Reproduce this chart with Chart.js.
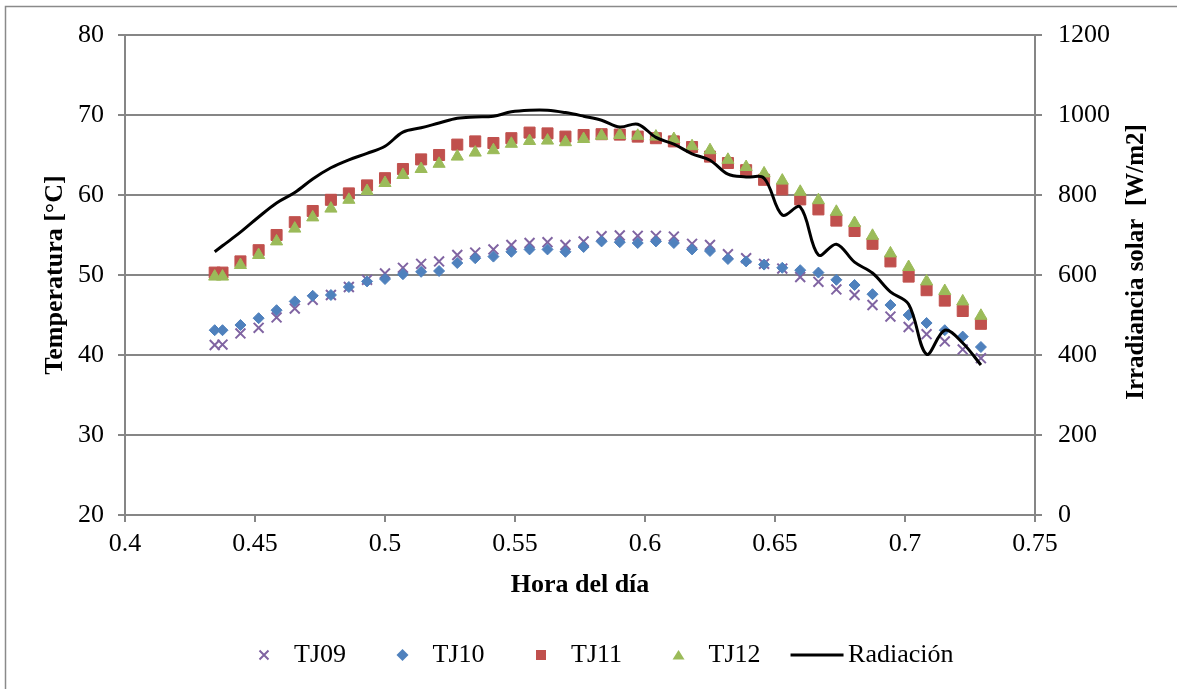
<!DOCTYPE html>
<html>
<head>
<meta charset="utf-8">
<script src="https://cdn.jsdelivr.net/npm/chart.js@4.4.0/dist/chart.umd.min.js"></script>
<style>
  body { margin: 0; background: #fff; }
  #wrap { width: 1177px; height: 689px; }
</style>
</head>
<body>
<div id="wrap"><canvas id="myChart" width="1177" height="689"></canvas></div>
<script>
// Hora del día (fracción del día), un punto cada 10 minutos
const horas = [0.4345, 0.4375, 0.4444, 0.4514, 0.4583, 0.4653, 0.4722, 0.4792, 0.4861, 0.4931,
  0.5, 0.5069, 0.5139, 0.5208, 0.5278, 0.5347, 0.5417, 0.5486, 0.5556, 0.5625,
  0.5694, 0.5764, 0.5833, 0.5903, 0.5972, 0.6042, 0.6111, 0.6181, 0.625, 0.6319,
  0.6389, 0.6458, 0.6528, 0.6597, 0.6667, 0.6736, 0.6806, 0.6875, 0.6944, 0.7014,
  0.7083, 0.7153, 0.7222, 0.7292];

// Temperaturas [°C]
const tj09 = [41.25, 41.3, 42.7, 43.4, 44.7, 45.8, 46.9, 47.5, 48.5, 49.4,
  50.2, 50.9, 51.4, 51.7, 52.5, 52.8, 53.2, 53.75, 54.0, 54.1,
  53.75, 54.2, 54.85, 54.95, 54.9, 54.9, 54.8, 53.9, 53.75, 52.6,
  52.1, 51.4, 50.8, 49.75, 49.15, 48.2, 47.5, 46.25, 44.8, 43.5,
  42.6, 41.7, 40.7, 39.6];
const tj10 = [43.1, 43.1, 43.75, 44.6, 45.6, 46.7, 47.4, 47.5, 48.5, 49.2,
  49.5, 50.1, 50.4, 50.5, 51.5, 52.1, 52.3, 52.9, 53.2, 53.2,
  52.9, 53.5, 54.2, 54.1, 54.0, 54.2, 54.0, 53.2, 53.0, 52.0,
  51.7, 51.3, 50.9, 50.6, 50.3, 49.4, 48.75, 47.6, 46.25, 45.0,
  44.0, 43.1, 42.3, 41.0];
const tj11 = [50.3, 50.3, 51.7, 53.1, 55.0, 56.6, 58.0, 59.4, 60.2, 61.2,
  62.1, 63.25, 64.45, 65.0, 66.3, 66.7, 66.5, 67.1, 67.8, 67.7,
  67.3, 67.5, 67.6, 67.55, 67.3, 67.1, 66.7, 66.0, 64.8, 64.0,
  63.1, 61.9, 60.7, 59.45, 58.2, 56.8, 55.5, 53.9, 51.7, 49.8,
  48.1, 46.8, 45.5, 43.9];
const tj12 = [49.8, 49.8, 51.25, 52.5, 54.2, 55.8, 57.2, 58.3, 59.4, 60.5,
  61.5, 62.5, 63.25, 63.9, 64.8, 65.3, 65.6, 66.4, 66.75, 66.8,
  66.6, 67.0, 67.4, 67.5, 67.4, 67.3, 67.0, 66.1, 65.6, 64.4,
  63.5, 62.7, 61.8, 60.4, 59.35, 57.9, 56.5, 54.9, 52.7, 51.0,
  49.2, 48.0, 46.7, 44.9];

// Irradiancia solar [W/m2]
const radiacion = [658, 673, 707, 745, 780, 806, 840, 868, 888, 904,
  922, 957, 968, 980, 992, 995, 997, 1008, 1012, 1012,
  1006, 997, 987, 970, 977, 944, 927, 903, 887, 852,
  845, 842, 750, 770, 650, 677, 632, 605, 558, 527,
  402, 462, 430, 375];

// Marcas de los ejes
const xTicks = [0.4, 0.45, 0.5, 0.55, 0.6, 0.65, 0.7, 0.75];
const tempTicks = [20, 30, 40, 50, 60, 70, 80];
const irrTicks = [0, 200, 400, 600, 800, 1000, 1200];

const gris = '#868686';
const fuente = '"Liberation Serif", "Times New Roman", serif';

function puntos(serie) {
  return horas.map((h, i) => ({ x: h, y: serie[i] }));
}

// marcador para la leyenda
function dibujarMarcador(ctx, estilo, color) {
  ctx.fillStyle = color;
  ctx.strokeStyle = color;
  ctx.beginPath();
  if (estilo === 'crossRot') {
    ctx.lineWidth = 2;
    ctx.moveTo(-4.5, -4.5); ctx.lineTo(4.5, 4.5);
    ctx.moveTo(-4.5, 4.5); ctx.lineTo(4.5, -4.5);
    ctx.stroke();
  } else if (estilo === 'rectRot') {
    ctx.moveTo(-6, 0); ctx.lineTo(0, -6); ctx.lineTo(6, 0); ctx.lineTo(0, 6);
    ctx.closePath(); ctx.fill();
  } else if (estilo === 'rect') {
    ctx.rect(-5, -5, 10, 10); ctx.fill();
  } else if (estilo === 'triangle') {
    ctx.moveTo(0, -5); ctx.lineTo(6, 4.5); ctx.lineTo(-6, 4.5);
    ctx.closePath(); ctx.fill();
  }
}

const marcoYLeyenda = {
  id: 'marcoYLeyenda',
  beforeDraw(chart) {
    const ctx = chart.ctx;
    ctx.save();
    ctx.fillStyle = '#fff';
    ctx.fillRect(0, 0, chart.width, chart.height);
    ctx.strokeStyle = '#8a8a8a';
    ctx.lineWidth = 1.5;
    ctx.beginPath();
    ctx.moveTo(5.5, chart.height);
    ctx.lineTo(5.5, 6.5);
    ctx.lineTo(chart.width, 6.5);
    ctx.stroke();
    ctx.restore();
  },
  afterDraw(chart) {
    const ctx = chart.ctx;
    // título del eje derecho, leído de abajo hacia arriba
    ctx.save();
    ctx.translate(1137, 262);
    ctx.rotate(-Math.PI / 2);
    ctx.font = 'bold 25px ' + fuente;
    ctx.fillStyle = '#000';
    ctx.textAlign = 'center';
    ctx.textBaseline = 'middle';
    ctx.fillText('Irradiancia solar  [W/m2]', 0, 0);
    ctx.restore();

    // leyenda abajo
    const y = 655;
    let x = 264;
    ctx.save();
    ctx.font = '26px ' + fuente;
    ctx.textBaseline = 'middle';
    chart.data.datasets.forEach(ds => {
      const w = ctx.measureText(ds.label).width;
      let tx;
      if (ds.showLine) {
        ctx.strokeStyle = ds.borderColor;
        ctx.lineWidth = 3;
        ctx.beginPath();
        ctx.moveTo(x - 26.5, y);
        ctx.lineTo(x + 26.5, y);
        ctx.stroke();
        tx = x + 31;
      } else {
        ctx.save();
        ctx.translate(x, y);
        dibujarMarcador(ctx, ds.pointStyle, ds.backgroundColor);
        ctx.restore();
        tx = x + 30;
      }
      ctx.fillStyle = '#000';
      ctx.fillText(ds.label, tx, y);
      x = tx + w + 56.5;
    });
    ctx.restore();
  }
};

Chart.defaults.font.family = fuente;
Chart.defaults.font.size = 26;
Chart.defaults.color = '#000';

const ctx = document.getElementById('myChart').getContext('2d');
const myChart = new Chart(ctx, {
  type: 'scatter',
  data: {
    datasets: [
      {
        label: 'TJ09', data: puntos(tj09), yAxisID: 'y', order: 4,
        pointStyle: 'crossRot', pointRadius: 7, borderWidth: 2,
        backgroundColor: '#8064A2', borderColor: '#8064A2'
      },
      {
        label: 'TJ10', data: puntos(tj10), yAxisID: 'y', order: 3,
        pointStyle: 'rectRot', pointRadius: 5.5, borderWidth: 1,
        backgroundColor: '#4F81BD', borderColor: '#4F81BD'
      },
      {
        label: 'TJ11', data: puntos(tj11), yAxisID: 'y', order: 2,
        pointStyle: 'rect', pointRadius: 7.8, borderWidth: 1,
        backgroundColor: '#C0504D', borderColor: '#C0504D'
      },
      {
        label: 'TJ12', data: puntos(tj12), yAxisID: 'y', order: 1,
        pointStyle: 'triangle', pointRadius: 7, borderWidth: 1,
        backgroundColor: '#9BBB59', borderColor: '#9BBB59'
      },
      {
        label: 'Radiación', data: puntos(radiacion), yAxisID: 'y1', order: 0,
        showLine: true, pointRadius: 0, borderWidth: 3, tension: 0.35,
        borderColor: '#000', backgroundColor: '#000'
      }
    ]
  },
  options: {
    responsive: false,
    animation: false,
    events: [],
    layout: { padding: { top: 35, left: 0, right: 0, bottom: 0 } },
    plugins: { legend: { display: false }, tooltip: { enabled: false } },
    scales: {
      x: {
        type: 'linear', min: 0.4, max: 0.75,
        afterBuildTicks: s => { s.ticks = xTicks.map(v => ({ value: v })); },
        afterFit: s => { s.height = 174; },
        ticks: { padding: 7, autoSkip: false, maxRotation: 0, callback: v => String(v) },
        grid: { drawOnChartArea: false, drawTicks: true, tickLength: 7, color: gris, lineWidth: 2 },
        border: { display: true, color: gris, width: 2 },
        title: { display: true, text: 'Hora del día', font: { size: 26, weight: 'bold' }, padding: { top: 0, bottom: 88 } }
      },
      y: {
        position: 'left', min: 20, max: 80,
        afterBuildTicks: s => { s.ticks = tempTicks.map(v => ({ value: v })); },
        afterFit: s => { s.width = 125; },
        ticks: { padding: 14, callback: v => String(v) },
        grid: { color: gris, lineWidth: 2, tickLength: 7 },
        border: { display: true, color: gris, width: 2 },
        title: { display: true, text: 'Temperatura [°C]', font: { size: 26, weight: 'bold' }, padding: { top: 40, bottom: 0 } }
      },
      y1: {
        position: 'right', min: 0, max: 1200,
        afterBuildTicks: s => { s.ticks = irrTicks.map(v => ({ value: v })); },
        afterFit: s => { s.width = 142; },
        ticks: { padding: 16, callback: v => String(v) },
        grid: { drawOnChartArea: false, color: gris, lineWidth: 2, tickLength: 7 },
        border: { display: true, color: gris, width: 2 }
      }
    }
  },
  plugins: [marcoYLeyenda]
});
</script>
</body>
</html>
